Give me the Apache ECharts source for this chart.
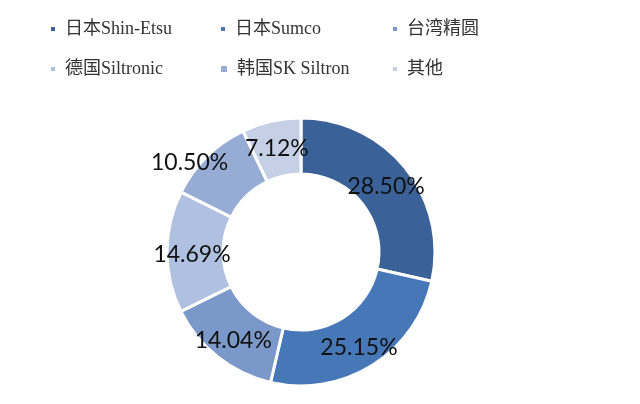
<!DOCTYPE html>
<html><head><meta charset="utf-8">
<script src="https://cdn.jsdelivr.net/npm/echarts@6/dist/echarts.min.js"></script>
<style>html,body{margin:0;padding:0;background:#fff}#c{width:640px;height:404px}</style>
</head><body><div id="c"></div>
<script>
const names = ['日本Shin-Etsu','日本Sumco','台湾精圆','德国Siltronic','韩国SK Siltron','其他'];
const values = [28.50, 25.15, 14.04, 14.69, 10.50, 7.12];
const colors = ['#3a6299','#4677b7','#7b98ca','#afc0e0','#97acd4','#c5d0e6'];
const legendPos = [[49,20],[219,20],[391,20],[49,60],[219,60],[391,60]];

const chart = echarts.init(document.getElementById('c'));
const legends = names.map((n,i)=>({
  data:[n], left:legendPos[i][0], top:legendPos[i][1], padding:0,
  icon:'rect', itemWidth: i===4?8:6, itemHeight: i===4?8:6, itemGap:0,
  textStyle:{fontFamily:'"Liberation Serif","Noto Sans CJK SC"', fontSize:18, color:'#333', padding:[0,0,0,4]}
}));
chart.setOption({
  animation:false,
  color:colors,
  legend:legends,
  series:[{
    type:'pie',
    center:[301,252],
    radius:[78,134],
    startAngle:90,
    clockwise:true,
    avoidLabelOverlap:false,
    labelLayout:function(p){ return p.dataIndex===4 ? {dx:-35, dy:-12, hideOverlap:false} : {dy:3, hideOverlap:false}; },
    itemStyle:{borderColor:'#fff', borderWidth:3},
    label:{show:true, position:'inside', formatter:p=>p.value.toFixed(2)+'%', fontFamily:'Lato,"Open Sans",sans-serif', fontSize:23, color:'#111'},
    labelLine:{show:false},
    data:names.map((n,i)=>({name:n, value:values[i]}))
  }]
});
</script></body></html>
